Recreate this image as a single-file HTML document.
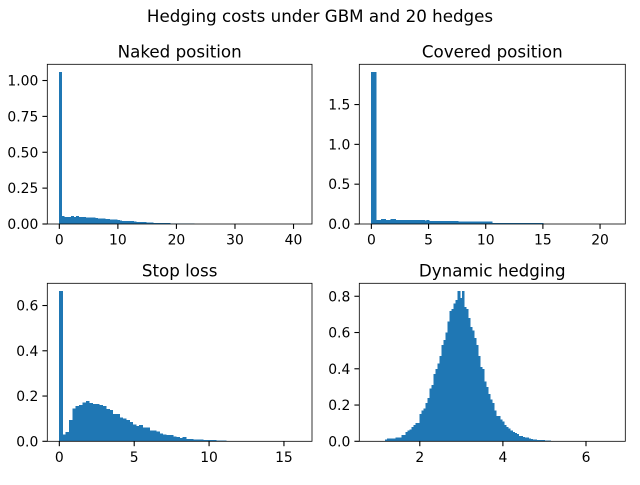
<!DOCTYPE html>
<html><head><meta charset="utf-8"><style>
body{margin:0;background:#fff}
svg text{font-family:"DejaVu Sans","Liberation Sans",sans-serif;fill:#000}
</style></head><body>
<svg id="fig" width="640" height="480" viewBox="0 0 640 480">
<text x="320" y="22" font-size="16.7" text-anchor="middle">Hedging costs under GBM and 20 hedges</text>
</svg>
<script>
// ---- data ----
const nakedRange = [0, 41.1];
const nakedHeights = [1.06,0.055,0.05,0.05,0.05,0.055,0.05,0.055,0.05,0.05,0.048,0.045,0.045,0.045,0.044,0.042,0.04,0.04,0.038,0.035,0.035,0.032,0.03,0.03,0.028,0.025,0.022,0.022,0.02,0.02,0.02,0.016,0.015,0.015,0.014,0.013,0.012,0.012,0.01,0.008,0.007,0.007,0.006,0.006,0.006,0.006,0.005,0.005,0.005,0.005,0.005,0.005,0.005,0.004,0.002,0.002,0.001,0.001,0.001,0.001,0.001,0.001,0.001,0.001,0.001,0.001,0.001,0.001,0.001,0.001,0.001,0.001,0,0.001,0,0.001,0,0.001,0,0,0.001,0,0,0.001,0,0,0,0.001,0,0,0,0,0.001,0,0,0,0,0,0,0.001];
const nakedXTicks = [0,10,20,30,40];
const nakedYTicks = [0,0.25,0.5,0.75,1.0];
const nakedYLabels = ["0.00","0.25","0.50","0.75","1.00"];

const coveredRange = [0, 21.15];
const coveredHeights = [1.91,1.91,0.05,0.05,0.06,0.06,0.05,0.05,0.06,0.06,0.05,0.05,0.05,0.05,0.05,0.05,0.05,0.05,0.05,0.05,0.05,0.05,0.045,0.05,0.04,0.04,0.04,0.04,0.04,0.04,0.04,0.04,0.04,0.035,0.035,0.04,0.03,0.03,0.03,0.03,0.03,0.03,0.03,0.03,0.03,0.03,0.03,0.03,0.03,0.03,0.01,0.01,0.01,0.01,0.01,0.01,0.01,0.01,0.01,0.01,0.01,0.01,0.01,0.01,0.01,0.01,0.01,0.01,0.01,0.01,0.01,0.002,0.001,0.001,0.001,0.001,0.001,0.001,0.001,0.001,0.001,0,0.001,0,0.001,0,0,0.001,0,0,0.001,0,0,0,0.001,0,0,0,0,0.001];
const coveredXTicks = [0,5,10,15,20];
const coveredYTicks = [0,0.5,1.0,1.5];
const coveredYLabels = ["0.0","0.5","1.0","1.5"];

const stopRange = [0, 16.07];
const stopHeights = [0.665,0.03,0.04,0.095,0.145,0.155,0.16,0.172,0.178,0.17,0.165,0.165,0.16,0.155,0.142,0.138,0.12,0.12,0.105,0.1,0.095,0.085,0.075,0.068,0.072,0.06,0.06,0.047,0.047,0.043,0.035,0.03,0.028,0.028,0.022,0.02,0.015,0.018,0.01,0.01,0.008,0.008,0.007,0.005,0.005,0.005,0.005,0.004,0.004,0.003,0.002,0.002,0.002,0.001,0.001,0.001,0.001,0.001,0.001,0.001,0,0.001,0,0.001,0,0,0.001,0,0,0,0,0.001];
const stopXTicks = [0,5,10,15];
const stopYTicks = [0,0.2,0.4,0.6];
const stopYLabels = ["0.0","0.2","0.4","0.6"];

const dynRange = [0.835, 6.655];
const dynHeights = [0.001,0,0,0,0,0,0,0.01,0.015,0.015,0.015,0.015,0.02,0.02,0.02,0.035,0.035,0.05,0.06,0.065,0.08,0.09,0.1,0.1,0.15,0.17,0.18,0.21,0.24,0.29,0.31,0.37,0.4,0.43,0.47,0.53,0.56,0.6,0.66,0.72,0.73,0.76,0.78,0.83,0.79,0.83,0.74,0.73,0.68,0.63,0.61,0.57,0.53,0.47,0.41,0.4,0.33,0.3,0.26,0.23,0.21,0.17,0.14,0.14,0.12,0.11,0.09,0.08,0.07,0.06,0.05,0.045,0.04,0.03,0.03,0.025,0.02,0.02,0.015,0.012,0.01,0.01,0.008,0.008,0.006,0.006,0.005,0.004,0.004,0.003,0.003,0.003,0.002,0.002,0.002,0.002,0.002,0.001,0.002,0.001,0.001,0.001,0,0.001,0.001,0,0.001,0,0,0.001,0,0,0,0,0.001,0,0,0,0,0.001];
const dynXTicks = [2,4,6];
const dynYTicks = [0,0.2,0.4,0.6,0.8];
const dynYLabels = ["0.0","0.2","0.4","0.6","0.8"];

const NS = "http://www.w3.org/2000/svg";
const fig = document.getElementById("fig");
function mk(tag, attrs, parent){const e=document.createElementNS(NS,tag);for(const k in attrs)e.setAttribute(k,attrs[k]);(parent||fig).appendChild(e);return e;}

function panel(key, title, box, range, heights, xt, yt, yl){
  const [L,T,R,B]=box;
  const g=mk("g",{});
  
  
  const span=range[1]-range[0];
  const xmin=range[0]-0.05*span, xmax=range[1]+0.05*span;
  const ymax=Math.max(...heights)*1.05;
  const sx=v=>L+(v-xmin)/(xmax-xmin)*(R-L);
  const sy=v=>B-v/ymax*(B-T);
  const w=span/heights.length;
  heights.forEach((h,i)=>{
    if(h<=0) return;
    const x0=sx(range[0]+i*w), x1=sx(range[0]+(i+1)*w);
    const r=mk("rect",{x:x0-0.3,y:sy(h),width:Math.max(x1-x0,0.5)+0.6,height:B-sy(h),fill:"#1f77b4","shape-rendering":"crispEdges"},g);
    
    
  });
  const fr=mk("rect",{x:L,y:T,width:R-L,height:B-T,fill:"none",stroke:"#000","stroke-width":0.8},g);
  
  
  xt.forEach(v=>{
    const x=sx(v);
    mk("line",{x1:x,x2:x,y1:B,y2:B+4.9,stroke:"#000","stroke-width":1.1},g);
    const t=mk("text",{x:x,y:B+20.5,"font-size":13.9,"text-anchor":"middle"},g);
    t.textContent=String(v);
    
    
  });
  yt.forEach((v,i)=>{
    const y=sy(v);
    mk("line",{x1:L-4.9,x2:L,y1:y,y2:y,stroke:"#000","stroke-width":1.1},g);
    const t=mk("text",{x:L-9,y:y+5,"font-size":13.9,"text-anchor":"end"},g);
    t.textContent=yl[i];
    
    
  });
  const tt=mk("text",{x:(L+R)/2,y:T-7,"font-size":16.7,"text-anchor":"middle"},g);
  tt.textContent=title;
  
  
}
panel("naked","Naked position",[47.3,64.3,312,224],nakedRange,nakedHeights,nakedXTicks,nakedYTicks,nakedYLabels);
panel("covered","Covered position",[359.3,64.3,625.3,224],coveredRange,coveredHeights,coveredXTicks,coveredYTicks,coveredYLabels);
panel("stop-loss","Stop loss",[47.3,283.3,312,441.3],stopRange,stopHeights,stopXTicks,stopYTicks,stopYLabels);
panel("dynamic","Dynamic hedging",[359.3,283.3,625.3,441.3],dynRange,dynHeights,dynXTicks,dynYTicks,dynYLabels);
</script>
</body></html>
